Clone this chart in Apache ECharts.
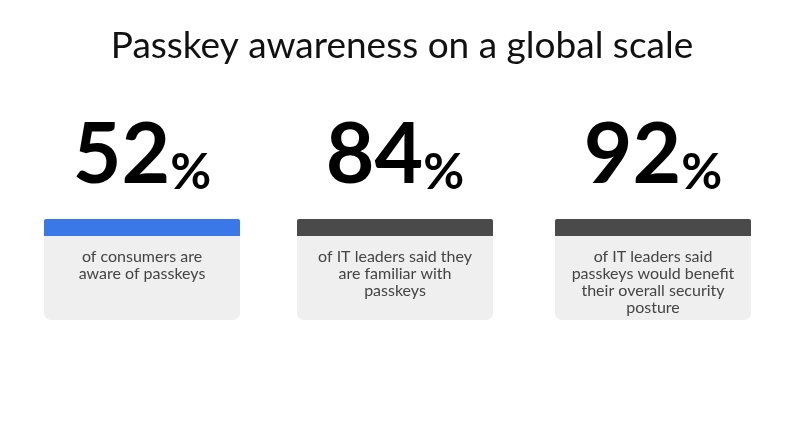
<!DOCTYPE html>
<html>
<head>
<meta charset="utf-8">
<script src="https://cdn.jsdelivr.net/npm/echarts@6/dist/echarts.min.js"></script>
<style>
  html, body { margin: 0; padding: 0; background: #fff; }
  #chart { width: 804px; height: 431px; }
</style>
</head>
<body>
<div id="chart"></div>
<script>
const title = 'Passkey awareness on a global scale';
const values = [52, 84, 92];
const descriptions = [
  'of consumers are\naware of passkeys',
  'of IT leaders said they\nare familiar with\npasskeys',
  'of IT leaders said\npasskeys would benefit\ntheir overall security\nposture'
];
const barColors = ['#3b78e7', '#4a4a4a', '#4a4a4a'];

const chart = echarts.init(document.getElementById('chart'));

// card geometry
const cardLeft = [44, 297, 555];
const cardW = 196;

const elements = [{
  type: 'text',
  left: 'center',
  top: 28,
  style: { text: title, font: '400 37px Lato', fill: '#111' }
}];

values.forEach((v, i) => {
  const x = cardLeft[i];
  const cx = x + cardW / 2;
  // card body
  elements.push({
    type: 'rect',
    shape: { x: x, y: 219, width: cardW, height: 101, r: [3, 3, 7, 7] },
    style: { fill: '#efefef' }
  });
  // colored header strip
  elements.push({
    type: 'rect',
    shape: { x: x, y: 219, width: cardW, height: 17, r: [2, 2, 0, 0] },
    style: { fill: barColors[i] }
  });
  // big number
  elements.push({
    type: 'text',
    x: cx, y: 198,
    style: {
      text: '{n|' + v + '}{p|%}',
      align: 'center', verticalAlign: 'bottom',
      rich: {
        n: { font: 'bold 84px Lato', fill: '#000', verticalAlign: 'bottom' },
        p: { font: 'bold 50px Lato', fill: '#000', verticalAlign: 'bottom' }
      }
    }
  });
  // description
  elements.push({
    type: 'text',
    x: cx, y: 248,
    style: {
      text: descriptions[i],
      align: 'center', verticalAlign: 'top',
      font: '400 16px Lato', lineHeight: 17, fill: '#444'
    }
  });
});

chart.setOption({ backgroundColor: '#fff', graphic: { elements: elements } });
</script>
</body>
</html>
